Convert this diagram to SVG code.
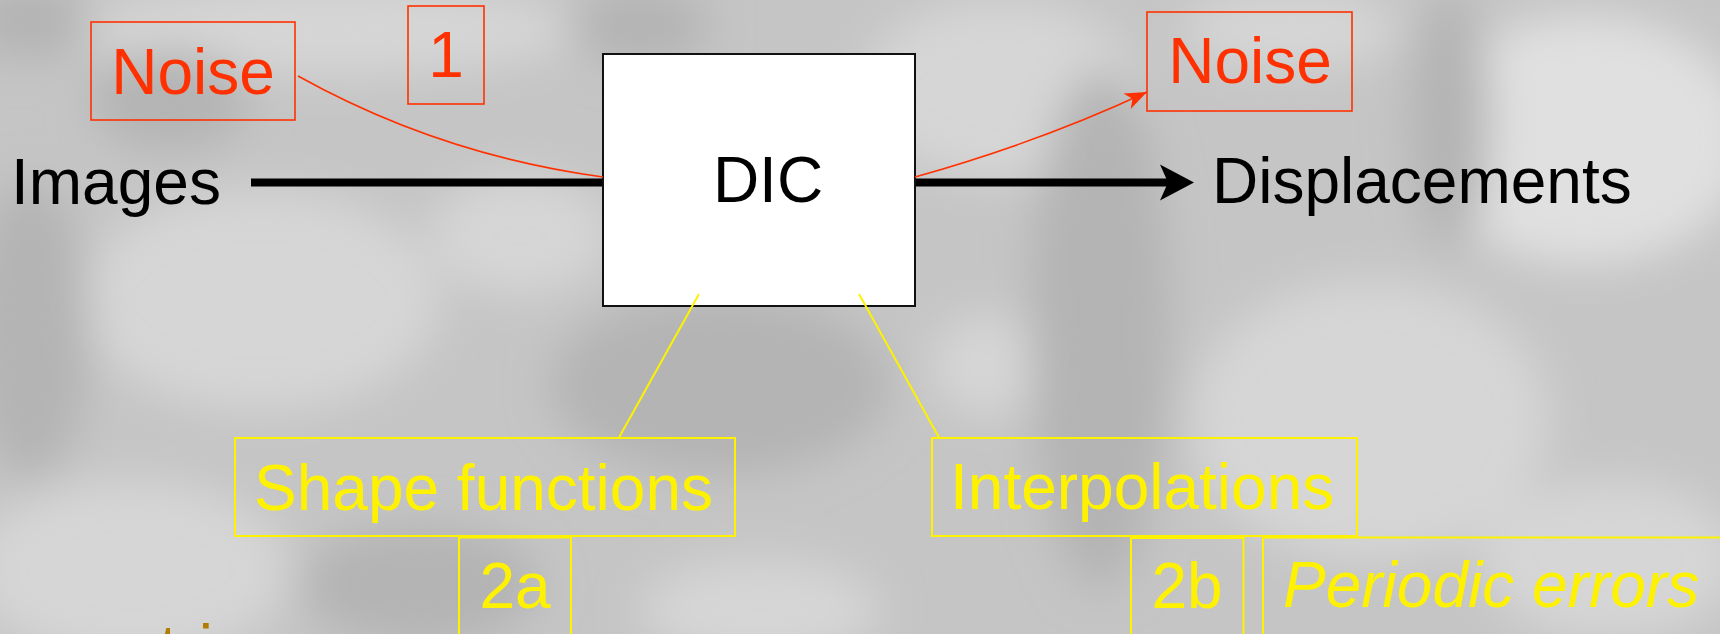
<svg xmlns="http://www.w3.org/2000/svg" width="1720" height="634" viewBox="0 0 1720 634">
  <defs>
    <style>
      text { font-family: "Liberation Sans", Arial, sans-serif; font-size: 64px; }
      .red { fill: #FF3100; }
      .yel { fill: #FFF200; }
      .blk { fill: #000000; }
      .rbox { fill: none; stroke: #FF3100; stroke-width: 1.6; }
      .ybox { fill: none; stroke: #FFF200; stroke-width: 2; }
      .rline { fill: none; stroke: #FF3100; stroke-width: 1.6; }
      .yline { fill: none; stroke: #FFF200; stroke-width: 2; }
      .bline { fill: none; stroke: #000000; stroke-width: 8; }
      .lt { fill: #D6D6D6; }
      .dk { fill: #B4B4B4; }
    </style>
    <filter id="soft" x="-20%" y="-20%" width="140%" height="140%">
      <feGaussianBlur stdDeviation="22"/>
    </filter>
    <marker id="redArrow" markerUnits="userSpaceOnUse" markerWidth="26" markerHeight="20" refX="22" refY="8.5" orient="auto" overflow="visible">
      <path d="M0,0 L22,8.5 L0,17 L6,8.5 z" fill="#FF3100"/>
    </marker>
    <marker id="blackArrow" markerUnits="userSpaceOnUse" markerWidth="40" markerHeight="40" refX="12" refY="18" orient="auto" overflow="visible">
      <path d="M0,0 L34,18 L0,36 L8,18 z" fill="#000000"/>
    </marker>
  </defs>

  <g id="background">
    <rect x="0" y="0" width="1720" height="634" fill="#C5C5C5"/>
    <g filter="url(#soft)">
      <ellipse class="lt" cx="330" cy="30" rx="250" ry="45"/>
      <ellipse class="lt" cx="260" cy="300" rx="180" ry="110"/>
      <ellipse class="lt" cx="130" cy="570" rx="160" ry="90"/>
      <ellipse class="lt" cx="520" cy="235" rx="90" ry="60"/>
      <ellipse class="lt" cx="1000" cy="90" rx="140" ry="90"/>
      <ellipse class="lt" cx="990" cy="365" rx="60" ry="50"/>
      <ellipse class="lt" cx="1370" cy="420" rx="180" ry="140"/>
      <ellipse class="lt" cx="1610" cy="560" rx="130" ry="80"/>
      <ellipse cx="1585" cy="140" rx="165" ry="125" fill="#E0E0E0"/>
      <ellipse class="lt" cx="1290" cy="30" rx="110" ry="40"/>
      <ellipse class="lt" cx="760" cy="610" rx="120" ry="50"/>
      <ellipse class="dk" cx="30" cy="330" rx="60" ry="150"/>
      <ellipse class="dk" cx="720" cy="385" rx="170" ry="90"/>
      <ellipse class="dk" cx="420" cy="585" rx="120" ry="60"/>
      <ellipse class="dk" cx="1100" cy="330" rx="70" ry="260"/>
      <ellipse class="dk" cx="1450" cy="120" rx="40" ry="130"/>
      <ellipse class="dk" cx="640" cy="25" rx="70" ry="40"/>
      <ellipse class="dk" cx="170" cy="100" rx="80" ry="50"/>
      <ellipse class="dk" cx="30" cy="20" rx="60" ry="40"/>
    </g>
  </g>

  <g id="node-dic">
    <rect x="603" y="54" width="312" height="252" fill="#FFFFFF" stroke="#111111" stroke-width="2"/>
    <text class="blk" x="768" y="202" text-anchor="middle">DIC</text>
  </g>

  <g id="connectors">
    <line class="bline" x1="251" y1="182.5" x2="602" y2="182.5"/>
    <line class="bline" x1="916" y1="182.5" x2="1172" y2="182.5" marker-end="url(#blackArrow)"/>
    <path class="rline" d="M298,76 Q440,155 603,177"/>
    <path class="rline" d="M915,177 Q1040,142 1147,92" marker-end="url(#redArrow)"/>
    <line class="yline" x1="699" y1="294" x2="619" y2="437.5"/>
    <line class="yline" x1="859" y1="294" x2="939" y2="437.5"/>
  </g>

  <g id="node-images">
    <text class="blk" x="11" y="204">Images</text>
  </g>

  <g id="node-displacements">
    <text class="blk" x="1212" y="203">Displacements</text>
  </g>

  <g id="node-noise-in">
    <rect class="rbox" x="91" y="22" width="204" height="98"/>
    <text class="red" x="193" y="94" text-anchor="middle">Noise</text>
  </g>

  <g id="node-1">
    <rect class="rbox" x="408" y="6" width="76" height="98"/>
    <text class="red" x="446" y="77" text-anchor="middle">1</text>
  </g>

  <g id="node-noise-out">
    <rect class="rbox" x="1147" y="12" width="205" height="99"/>
    <text class="red" x="1250" y="83" text-anchor="middle">Noise</text>
  </g>

  <g id="node-shape-functions">
    <rect class="ybox" x="235" y="438" width="500" height="98"/>
    <text class="yel" x="254" y="510">Shape functions</text>
  </g>

  <g id="node-interpolations">
    <rect class="ybox" x="932" y="438" width="425" height="98"/>
    <text class="yel" x="950" y="509">Interpolations</text>
  </g>

  <g id="node-2a">
    <rect class="ybox" x="459" y="537.5" width="112" height="110"/>
    <text class="yel" x="515" y="608" text-anchor="middle">2a</text>
  </g>

  <g id="node-2b">
    <rect class="ybox" x="1131" y="538" width="112.5" height="110"/>
    <text class="yel" x="1187" y="608" text-anchor="middle">2b</text>
  </g>

  <g id="node-periodic-errors">
    <rect class="ybox" x="1263" y="537.5" width="480" height="110"/>
    <text class="yel" x="1283" y="607" font-style="italic">Periodic errors</text>
  </g>

  <g id="title-fragment">
    <text x="159.6" y="670" fill="#B07D00">tri</text>
  </g>
</svg>
